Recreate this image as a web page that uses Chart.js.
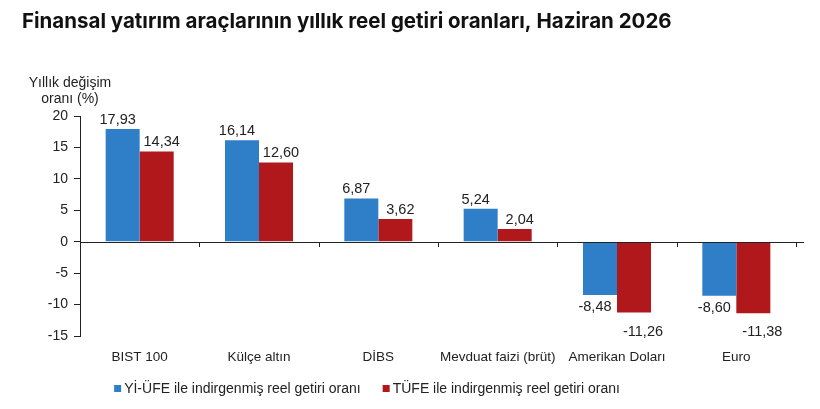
<!DOCTYPE html>
<html>
<head>
<meta charset="utf-8">
<script src="https://cdn.jsdelivr.net/npm/chart.js@4"></script>
<style>
  html, body { margin: 0; padding: 0; background: #fff; }
  #wrap { width: 820px; height: 409px; position: relative; }
</style>
</head>
<body>
<div id="wrap"><canvas id="chart"></canvas></div>
<script>
const categories = ['BIST 100', 'Külçe altın', 'DİBS', 'Mevduat faizi (brüt)', 'Amerikan Doları', 'Euro'];
const yiufeValues = [17.93, 16.14, 6.87, 5.24, -8.48, -8.60];
const tufeValues = [14.34, 12.60, 3.62, 2.04, -11.26, -11.38];
const seriesNames = ['Yİ-ÜFE ile indirgenmiş reel getiri oranı', 'TÜFE ile indirgenmiş reel getiri oranı'];
const seriesColors = ['#2f7fc8', '#b0181b'];
const chartTitle = 'Finansal yatırım araçlarının yıllık reel getiri oranları, Haziran 2026';
const axisTitle = ['Yıllık değişim', 'oranı (%)'];

const FONT = '"Liberation Sans", Arial, sans-serif';

function fmt(v) {
  return v.toFixed(2).replace('.', ',');
}

/* value labels, zero line, titles, legend */
const extras = {
  id: 'extras',
  afterDatasetsDraw(chart) {
    const ctx = chart.ctx;
    const area = chart.chartArea;
    const y = chart.scales.y;
    const x = chart.scales.x;
    const y0 = Math.round(y.getPixelForValue(0));

    ctx.save();
    ctx.strokeStyle = '#222';
    ctx.lineWidth = 1;
    ctx.beginPath();
    ctx.moveTo(area.left, y0 + 0.5);
    ctx.lineTo(area.right + 8, y0 + 0.5);
    for (let i = 1; i <= categories.length; i++) {
      const bx = Math.round((x.getPixelForValue(i - 1) + x.getPixelForValue(i)) / 2) + 0.5;
      const px = i === categories.length ? Math.round(area.right) + 0.5 : bx;
      ctx.moveTo(px, y0);
      ctx.lineTo(px, y0 + 5);
    }
    ctx.stroke();

    ctx.font = '14.5px ' + FONT;
    ctx.fillStyle = '#222';
    ctx.textAlign = 'center';
    chart.data.datasets.forEach((ds, di) => {
      // labels sit a little outward from the pair centre
      chart.getDatasetMeta(di).data.forEach((bar, i) => {
        const v = ds.data[i];
        if (v >= 0) {
          ctx.textBaseline = 'bottom';
          ctx.fillText(fmt(v), bar.x + (di === 0 ? -5 : 5), bar.y - 2);
        } else {
          ctx.textBaseline = 'top';
          ctx.fillText(fmt(v), bar.x + (di === 0 ? -5 : 9), bar.y + (di === 0 ? 5 : 12));
        }
      });
    });
    ctx.restore();
  },
  afterDraw(chart) {
    const ctx = chart.ctx;
    ctx.save();
    ctx.fillStyle = '#111';
    ctx.textBaseline = 'middle';
    ctx.textAlign = 'left';
    ctx.font = 'bold 20.5px Inter, "Liberation Sans", sans-serif';
    ctx.fillText(chartTitle, 22, 22);

    ctx.fillStyle = '#222';
    ctx.font = '14px ' + FONT;
    ctx.textAlign = 'center';
    ctx.fillText(axisTitle[0], 70, 83);
    ctx.fillText(axisTitle[1], 70, 99);

    // legend
    ctx.font = '14px ' + FONT;
    ctx.textAlign = 'left';
    const gap = 22, box = 7, pad = 3;
    const widths = seriesNames.map(s => box + pad + ctx.measureText(s).width);
    const total = widths[0] + widths[1] + gap;
    let lx = 367 - total / 2;
    const ly = 389;
    seriesNames.forEach((s, i) => {
      ctx.fillStyle = seriesColors[i];
      ctx.fillRect(lx, ly - 4, box, box);
      ctx.fillStyle = '#222';
      ctx.fillText(s, lx + box + pad, ly);
      lx += widths[i] + gap;
    });
    ctx.restore();
  }
};

new Chart(document.getElementById('chart'), {
  type: 'bar',
  data: {
    labels: categories,
    datasets: [
      { label: seriesNames[0], data: yiufeValues, backgroundColor: seriesColors[0] },
      { label: seriesNames[1], data: tufeValues, backgroundColor: seriesColors[1] }
    ]
  },
  options: {
    responsive: true,
    maintainAspectRatio: false,
    animation: false,
    devicePixelRatio: 1,
    layout: { padding: { top: 116, right: 24, bottom: 0, left: 0 } },
    datasets: {
      bar: { categoryPercentage: 0.57, barPercentage: 1 }
    },
    plugins: {
      legend: { display: false },
      tooltip: { enabled: false }
    },
    scales: {
      x: {
        grid: { display: false },
        border: { display: false },
        ticks: { color: '#222', font: { family: FONT, size: 13.5 }, maxRotation: 0, padding: 5 },
        afterFit(s) { s.height = 73; }
      },
      y: {
        min: -15,
        max: 20,
        ticks: { stepSize: 5, color: '#222', font: { family: FONT, size: 14 }, padding: 6 },
        grid: { drawOnChartArea: false, tickLength: 6, color: '#222' },
        border: { color: '#222' },
        afterFit(s) { s.width = 80; }
      }
    }
  },
  plugins: [extras]
});
</script>
</body>
</html>
